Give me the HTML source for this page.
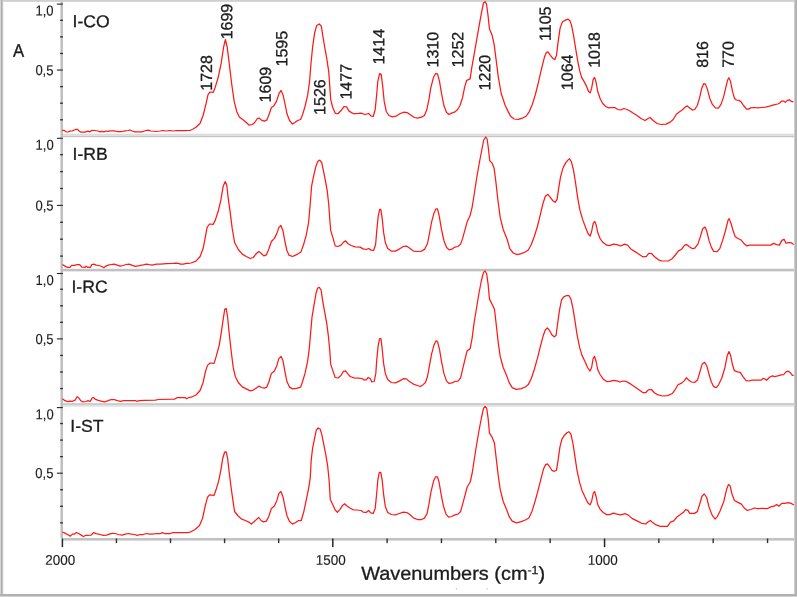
<!DOCTYPE html>
<html><head><meta charset="utf-8"><title>Spectra</title>
<style>
html,body{margin:0;padding:0;background:#fff;}
body{width:797px;height:597px;overflow:hidden;}
svg{display:block;}
text{font-family:"Liberation Sans",sans-serif;fill:#1c1c1c;stroke:#1c1c1c;stroke-width:0.3px;}
</style></head><body>
<svg width="797" height="597" viewBox="0 0 797 597">
<rect x="0" y="0" width="797" height="597" fill="#ffffff"/>
<rect x="0" y="0" width="797" height="1" fill="#cfcfcf"/>
<rect x="0" y="1" width="797" height="0.9" fill="#d2d2d2"/>
<rect x="0" y="0" width="1" height="597" fill="#d4d4d4"/>
<rect x="1" y="0" width="1" height="597" fill="#b0b0b0"/>
<rect x="2" y="0" width="1" height="597" fill="#c4c4c4"/>
<rect x="3" y="1.7" width="1" height="593" fill="#f2f2f2"/>
<rect x="794" y="0" width="1" height="597" fill="#cecece"/>
<rect x="795" y="0" width="1" height="597" fill="#b4b4b4"/>
<rect x="796" y="0" width="1" height="597" fill="#b2b2b2"/>
<rect x="0" y="594" width="797" height="2" fill="#b2b2b2"/>
<rect x="0" y="596" width="797" height="1" fill="#d2d2d2"/>
<rect x="62.5" y="133" width="731.5" height="1" fill="#f4f4f4"/>
<rect x="62.5" y="134" width="731.5" height="1" fill="#dcdcdc"/>
<rect x="62.5" y="135" width="731.5" height="1" fill="#e2e2e2"/>
<rect x="62.5" y="136" width="731.5" height="1" fill="#c4c4c4"/>
<rect x="62.5" y="137" width="731.5" height="1" fill="#f4f4f4"/>
<rect x="62.5" y="268" width="731.5" height="1" fill="#f0f0f0"/>
<rect x="62.5" y="269" width="731.5" height="1" fill="#c2c2c2"/>
<rect x="62.5" y="270" width="731.5" height="1" fill="#c0c0c0"/>
<rect x="62.5" y="271" width="731.5" height="1" fill="#e8e8e8"/>
<rect x="62.5" y="403" width="731.5" height="1" fill="#d0d0d0"/>
<rect x="62.5" y="404" width="731.5" height="1" fill="#cccccc"/>
<rect x="62.5" y="405" width="731.5" height="1" fill="#e2e2e2"/>
<rect x="62.5" y="406" width="731.5" height="1" fill="#e8e8e8"/>
<rect x="62.5" y="538" width="731.5" height="2.6" fill="#c2c2c2"/>
<rect x="60.5" y="1.7" width="2.4" height="536.5" fill="#bcbcbc"/>
<rect x="56.9" y="3.55" width="5.9" height="1.1" fill="#262626"/>
<rect x="60.1" y="19.66" width="2.8" height="1.3" fill="#2a2a2a"/>
<rect x="60.1" y="36.24" width="2.8" height="1.3" fill="#2a2a2a"/>
<rect x="60.1" y="52.82" width="2.8" height="1.3" fill="#2a2a2a"/>
<rect x="56.9" y="69.50" width="5.9" height="1.1" fill="#262626"/>
<rect x="60.1" y="85.98" width="2.8" height="1.3" fill="#2a2a2a"/>
<rect x="60.1" y="102.56" width="2.8" height="1.3" fill="#2a2a2a"/>
<rect x="60.1" y="119.14" width="2.8" height="1.3" fill="#2a2a2a"/>
<rect x="56.9" y="137.75" width="5.9" height="1.1" fill="#262626"/>
<rect x="60.1" y="154.05" width="2.8" height="1.3" fill="#2a2a2a"/>
<rect x="60.1" y="170.95" width="2.8" height="1.3" fill="#2a2a2a"/>
<rect x="60.1" y="187.85" width="2.8" height="1.3" fill="#2a2a2a"/>
<rect x="56.9" y="204.85" width="5.9" height="1.1" fill="#262626"/>
<rect x="60.1" y="221.65" width="2.8" height="1.3" fill="#2a2a2a"/>
<rect x="60.1" y="238.55" width="2.8" height="1.3" fill="#2a2a2a"/>
<rect x="60.1" y="255.45" width="2.8" height="1.3" fill="#2a2a2a"/>
<rect x="56.9" y="272.95" width="5.9" height="1.1" fill="#262626"/>
<rect x="60.1" y="288.60" width="2.8" height="1.3" fill="#2a2a2a"/>
<rect x="60.1" y="305.15" width="2.8" height="1.3" fill="#2a2a2a"/>
<rect x="60.1" y="321.70" width="2.8" height="1.3" fill="#2a2a2a"/>
<rect x="56.9" y="338.35" width="5.9" height="1.1" fill="#262626"/>
<rect x="60.1" y="354.80" width="2.8" height="1.3" fill="#2a2a2a"/>
<rect x="60.1" y="371.35" width="2.8" height="1.3" fill="#2a2a2a"/>
<rect x="60.1" y="387.90" width="2.8" height="1.3" fill="#2a2a2a"/>
<rect x="56.9" y="407.05" width="5.9" height="1.1" fill="#262626"/>
<rect x="60.1" y="422.90" width="2.8" height="1.3" fill="#2a2a2a"/>
<rect x="60.1" y="439.45" width="2.8" height="1.3" fill="#2a2a2a"/>
<rect x="60.1" y="456.00" width="2.8" height="1.3" fill="#2a2a2a"/>
<rect x="56.9" y="472.65" width="5.9" height="1.1" fill="#262626"/>
<rect x="60.1" y="489.10" width="2.8" height="1.3" fill="#2a2a2a"/>
<rect x="60.1" y="505.65" width="2.8" height="1.3" fill="#2a2a2a"/>
<rect x="60.1" y="522.20" width="2.8" height="1.3" fill="#2a2a2a"/>
<rect x="61.65" y="538.5" width="1.5" height="8.6" fill="#262626"/>
<rect x="115.73" y="538.5" width="1.4" height="4.6" fill="#303030"/>
<rect x="169.81" y="538.5" width="1.4" height="4.6" fill="#303030"/>
<rect x="223.89" y="538.5" width="1.4" height="4.6" fill="#303030"/>
<rect x="277.97" y="538.5" width="1.4" height="4.6" fill="#303030"/>
<rect x="332.05" y="538.5" width="1.5" height="8.6" fill="#262626"/>
<rect x="386.40" y="538.5" width="1.4" height="4.6" fill="#303030"/>
<rect x="440.75" y="538.5" width="1.4" height="4.6" fill="#303030"/>
<rect x="495.10" y="538.5" width="1.4" height="4.6" fill="#303030"/>
<rect x="549.45" y="538.5" width="1.4" height="4.6" fill="#303030"/>
<rect x="603.80" y="538.5" width="1.5" height="8.6" fill="#262626"/>
<rect x="658.15" y="538.5" width="1.4" height="4.6" fill="#303030"/>
<rect x="712.50" y="538.5" width="1.4" height="4.6" fill="#303030"/>
<rect x="766.85" y="538.5" width="1.4" height="4.6" fill="#303030"/>
<rect x="455.8" y="588.4" width="1" height="1" fill="#999"/><rect x="486.5" y="588.4" width="1" height="1" fill="#999"/>
<text transform="translate(72.53,27.12) rotate(0.03) scale(1.030,1)" style="font-size:17.10px">I-CO</text>
<text transform="translate(72.53,159.82) rotate(0.03) scale(1.030,1)" style="font-size:17.10px">I-RB</text>
<text transform="translate(71.43,292.51) rotate(0.03) scale(1.030,1)" style="font-size:17.10px">I-RC</text>
<text transform="translate(70.28,431.69) rotate(0.03) scale(1.030,1)" style="font-size:17.10px">I-ST</text>
<text transform="translate(12.94,56.74) rotate(0.03) scale(0.920,1)" style="font-size:18.20px">A</text>
<text transform="translate(35.47,15.61) rotate(0.03) scale(0.910,1)" style="font-size:14.30px;stroke-width:0.15px">1,0</text>
<text transform="translate(35.38,75.12) rotate(0.03) scale(0.910,1)" style="font-size:14.30px;stroke-width:0.15px">0,5</text>
<text transform="translate(35.60,149.80) rotate(0.03) scale(0.910,1)" style="font-size:14.30px;stroke-width:0.15px">1,0</text>
<text transform="translate(35.44,210.51) rotate(0.03) scale(0.910,1)" style="font-size:14.30px;stroke-width:0.15px">0,5</text>
<text transform="translate(35.56,284.96) rotate(0.03) scale(0.910,1)" style="font-size:14.30px;stroke-width:0.15px">1,0</text>
<text transform="translate(35.41,343.88) rotate(0.03) scale(0.910,1)" style="font-size:14.30px;stroke-width:0.15px">0,5</text>
<text transform="translate(35.56,419.13) rotate(0.03) scale(0.910,1)" style="font-size:14.30px;stroke-width:0.15px">1,0</text>
<text transform="translate(35.30,478.06) rotate(0.03) scale(0.910,1)" style="font-size:14.30px;stroke-width:0.15px">0,5</text>
<text transform="translate(45.31,564.69) rotate(0.03) scale(0.963,1)" style="font-size:14.00px;stroke-width:0.15px">2000</text>
<text transform="translate(315.76,564.84) rotate(0.03) scale(0.963,1)" style="font-size:14.00px;stroke-width:0.15px">1500</text>
<text transform="translate(587.80,564.85) rotate(0.03) scale(0.963,1)" style="font-size:14.00px;stroke-width:0.15px">1000</text>
<text transform="translate(361.13,579.64) rotate(0.03) scale(1.060,1)" style="font-size:18.80px">Wavenumbers (cm<tspan dy="-5.8" style="font-size:11.7px">-1</tspan><tspan dy="5.8">)</tspan></text>
<text transform="translate(212.07,90.73) rotate(-89.97) scale(0.990,1)" style="font-size:16.20px">1728</text>
<text transform="translate(232.20,39.37) rotate(-89.97) scale(0.990,1)" style="font-size:16.20px">1699</text>
<text transform="translate(270.87,102.43) rotate(-89.97) scale(0.990,1)" style="font-size:16.20px">1609</text>
<text transform="translate(287.32,66.49) rotate(-89.97) scale(0.990,1)" style="font-size:16.20px">1595</text>
<text transform="translate(325.25,114.90) rotate(-89.97) scale(0.990,1)" style="font-size:16.20px">1526</text>
<text transform="translate(351.61,99.60) rotate(-89.97) scale(0.990,1)" style="font-size:16.20px">1477</text>
<text transform="translate(384.26,64.57) rotate(-89.97) scale(0.990,1)" style="font-size:16.20px">1414</text>
<text transform="translate(438.14,67.52) rotate(-89.97) scale(0.990,1)" style="font-size:16.20px">1310</text>
<text transform="translate(463.22,67.45) rotate(-89.97) scale(0.990,1)" style="font-size:16.20px">1252</text>
<text transform="translate(490.22,90.43) rotate(-89.97) scale(0.990,1)" style="font-size:16.20px">1220</text>
<text transform="translate(550.70,40.95) rotate(-89.97) scale(0.990,1)" style="font-size:16.20px">1105</text>
<text transform="translate(572.66,90.20) rotate(-89.97) scale(0.990,1)" style="font-size:16.20px">1064</text>
<text transform="translate(599.66,67.86) rotate(-89.97) scale(0.990,1)" style="font-size:16.20px">1018</text>
<text transform="translate(708.06,67.79) rotate(-89.97) scale(0.990,1)" style="font-size:16.20px">816</text>
<text transform="translate(733.84,67.79) rotate(-89.97) scale(0.990,1)" style="font-size:16.20px">770</text>
<polyline fill="none" stroke="#ff1818" stroke-width="1.25" stroke-linejoin="round" points="62.0,130.5 64.0,130.3 66.0,131.8 68.0,132.0 70.0,131.2 72.0,131.0 74.0,130.2 76.0,129.3 77.5,129.3 79.0,131.0 81.0,132.2 85.0,132.2 88.0,131.2 90.0,131.8 92.0,130.3 95.0,130.5 98.0,131.0 100.0,131.8 102.0,131.3 104.0,131.8 106.0,131.0 108.0,131.3 110.0,130.8 114.0,130.8 117.0,131.5 122.0,131.5 125.0,130.8 128.0,130.5 130.0,130.0 132.0,131.0 135.0,131.8 142.0,131.8 146.0,130.5 148.0,130.2 151.0,131.0 156.0,131.5 160.0,131.0 163.0,130.5 166.0,131.0 170.0,130.5 173.0,131.0 177.0,130.5 182.0,130.5 187.0,130.5 190.0,130.3 191.0,130.0 193.0,129.0 196.0,127.2 200.0,123.5 203.1,115.5 206.1,103.4 208.1,94.4 210.1,92.0 213.1,92.4 215.2,87.4 218.2,77.3 221.2,63.2 223.6,47.2 225.4,39.5 227.2,47.2 229.2,63.2 231.6,83.3 234.2,101.4 236.7,111.5 239.3,117.1 243.3,120.1 246.3,122.5 249.3,125.2 252.3,124.5 254.7,122.5 257.4,118.5 259.4,118.1 261.4,120.1 264.4,121.1 267.0,119.9 269.4,113.5 271.4,107.5 273.8,105.9 276.5,101.4 279.1,93.4 281.1,90.4 282.9,94.4 284.9,103.4 286.9,113.5 289.5,120.5 292.5,124.1 294.9,122.5 297.6,120.5 300.6,119.5 302.6,114.5 305.0,106.5 307.6,95.4 309.6,81.3 311.0,63.2 312.6,47.2 314.6,33.1 316.7,25.5 319.3,24.0 321.3,26.1 322.7,35.1 324.7,47.2 326.7,58.2 328.7,71.3 329.7,85.4 330.7,99.4 332.7,107.5 335.4,113.5 338.0,113.7 341.0,110.5 344.0,106.5 346.5,106.9 349.1,111.1 353.1,113.5 357.1,113.5 361.1,113.1 365.2,114.5 368.6,113.5 371.2,116.1 373.2,116.5 375.2,109.5 376.6,95.4 377.8,81.3 379.6,73.7 381.2,74.3 382.6,85.4 384.2,101.4 386.3,111.5 388.9,115.5 392.3,116.9 396.3,116.1 400.3,113.5 404.3,112.1 407.8,112.9 411.4,115.5 414.4,117.5 417.4,118.1 421.4,117.1 424.4,115.5 426.9,109.5 428.9,99.4 430.9,87.4 433.5,77.3 435.5,73.7 437.5,73.9 439.5,81.3 441.5,93.4 443.9,105.5 446.6,112.5 449.0,114.5 451.6,113.1 455.0,111.9 457.6,109.5 460.0,105.5 462.6,97.4 464.6,87.4 466.7,80.3 470.1,78.9 472.0,66.3 475.6,46.2 478.7,28.1 481.6,12.1 483.5,3.0 485.1,1.6 486.5,4.0 488.1,16.1 489.5,29.1 492.1,35.2 494.1,44.2 496.2,60.3 498.2,76.4 501.2,93.5 505.2,105.5 508.2,111.6 510.8,116.6 514.2,119.0 518.3,119.4 522.3,118.2 526.3,116.0 529.3,111.6 532.3,104.5 535.4,94.5 538.4,82.4 541.4,69.3 544.4,57.3 546.4,52.3 548.0,51.9 550.4,55.3 552.8,58.3 554.8,59.7 556.5,55.3 558.1,42.2 560.1,28.1 562.5,21.7 565.5,20.1 567.9,19.1 569.9,20.7 571.5,25.1 573.5,35.2 575.6,48.2 577.6,60.3 579.6,70.4 581.6,77.4 584.0,81.4 586.6,86.4 588.6,91.5 590.2,92.9 591.6,88.4 593.2,79.4 594.6,77.4 596.1,82.4 597.7,91.5 600.1,98.5 602.7,103.5 605.7,106.5 608.7,107.9 611.7,107.5 614.7,107.5 617.8,109.5 620.8,110.0 623.8,108.5 627.0,109.5 630.0,111.0 633.0,113.0 637.0,115.5 641.0,118.5 645.0,120.5 648.1,118.5 650.1,117.5 653.1,120.5 657.1,123.5 661.1,124.5 666.1,124.1 670.2,122.1 673.2,119.5 676.2,114.5 679.2,112.1 682.2,110.1 684.6,107.5 687.3,105.9 689.7,107.9 692.3,110.1 694.7,109.5 697.3,105.5 699.7,97.4 701.7,88.4 703.7,83.7 705.3,83.9 707.4,89.4 709.8,98.4 712.4,104.4 715.4,107.9 718.4,108.1 721.0,104.4 723.4,97.4 725.4,89.4 727.5,80.3 728.9,77.7 730.5,81.3 732.5,91.4 734.5,98.4 736.5,100.0 738.9,100.4 741.1,101.8 743.5,105.5 746.5,109.1 748.6,109.1 750.6,107.9 753.6,107.5 757.6,107.9 761.6,107.5 765.6,107.1 769.7,106.1 773.7,104.9 777.7,104.0 779.7,103.0 781.7,101.0 783.7,101.0 785.3,102.4 787.4,100.4 789.4,99.8 791.4,101.4 793.4,101.8"/>
<polyline fill="none" stroke="#ff1818" stroke-width="1.25" stroke-linejoin="round" points="62.4,264.5 65.0,266.1 67.0,267.3 70.0,267.3 71.6,265.3 75.0,265.3 77.0,264.5 79.5,264.5 82.0,267.1 85.0,267.3 86.1,266.1 87.5,267.3 90.5,267.3 91.7,264.5 94.0,264.1 96.0,265.1 99.0,265.5 101.8,266.5 103.8,267.7 105.8,266.1 108.2,265.1 111.2,264.5 114.2,264.1 117.2,265.1 120.2,266.1 123.2,265.5 126.2,264.5 129.2,264.1 132.3,265.3 135.3,266.3 139.3,265.7 143.3,264.9 146.3,264.1 149.3,264.7 152.3,265.1 156.4,264.1 160.4,264.1 166.4,263.7 172.4,263.5 175.4,263.1 178.4,263.3 180.4,264.1 183.4,264.1 186.4,263.3 188.5,263.3 191.0,263.0 196.0,261.2 200.1,256.5 203.1,248.5 205.1,238.4 207.1,227.4 209.5,224.0 213.1,224.4 215.2,220.4 218.2,211.3 220.8,200.3 223.2,186.2 225.2,181.6 226.8,185.2 228.2,198.2 230.2,212.3 232.2,228.4 234.6,242.5 238.3,249.5 242.3,254.1 246.3,256.5 250.3,258.5 253.3,257.5 256.4,253.5 258.8,251.5 261.4,253.5 263.8,255.9 266.4,254.9 269.0,248.5 271.4,241.5 274.4,238.4 276.9,233.4 278.9,227.4 280.9,225.4 282.9,230.4 284.9,241.5 286.9,250.5 288.9,255.1 292.5,256.5 295.6,255.1 298.6,253.5 301.0,251.9 303.6,244.5 306.2,235.4 308.6,222.4 310.2,204.3 311.6,186.2 313.6,176.1 315.7,167.1 317.7,161.5 319.7,160.1 321.7,162.5 323.3,170.1 325.3,180.2 327.3,191.2 328.7,204.3 329.7,218.3 330.7,230.4 333.1,238.4 335.2,245.9 338.0,246.5 341.0,245.1 343.6,242.1 345.7,240.9 347.7,243.5 351.1,245.5 355.1,246.9 360.1,247.1 363.1,248.9 366.2,249.5 368.6,248.5 371.2,250.1 373.6,250.5 375.6,244.5 376.8,230.4 378.2,216.3 379.6,209.7 380.8,209.3 382.2,218.3 383.6,232.4 385.3,242.5 387.7,248.5 391.3,251.1 395.3,251.1 399.3,249.1 403.3,246.5 406.4,246.1 409.4,248.1 413.4,251.1 417.4,251.5 421.4,251.1 424.8,249.1 427.5,243.5 429.5,233.4 431.5,222.4 433.9,213.3 435.9,208.9 437.5,208.9 439.1,215.3 441.5,229.4 443.9,240.5 446.6,247.5 449.2,249.9 452.0,249.1 455.0,247.1 458.0,246.5 460.6,244.1 462.6,238.4 465.1,229.4 467.3,221.4 470.0,215.8 472.0,207.8 474.2,194.5 476.6,178.5 479.2,163.5 481.6,151.0 483.7,140.0 485.7,137.0 487.1,139.0 488.5,149.1 489.7,160.7 492.1,163.1 494.1,168.2 495.8,181.2 497.8,199.3 500.2,217.4 503.2,229.5 507.2,239.5 509.8,248.6 513.2,253.0 517.3,254.6 521.3,253.6 525.3,252.0 528.3,250.0 531.3,244.5 534.3,236.5 537.4,226.5 540.4,214.4 543.0,203.3 545.4,196.3 547.8,194.3 550.4,197.3 552.8,200.7 555.1,202.3 557.1,199.3 558.5,189.3 560.5,177.2 562.9,168.2 565.5,163.1 567.9,160.1 569.5,158.7 571.5,162.1 573.5,170.2 575.6,183.2 577.6,197.3 580.0,210.4 582.6,219.4 585.6,227.5 588.0,233.5 590.2,236.1 591.6,231.5 593.2,223.4 594.8,221.4 596.3,225.5 597.7,232.5 600.1,238.5 603.1,242.5 606.7,245.2 609.7,245.6 613.5,244.1 617.0,244.6 620.6,246.0 624.5,244.1 627.6,245.1 631.1,249.3 635.8,252.1 639.3,254.5 642.8,256.8 646.4,256.3 648.7,253.3 651.5,253.5 654.6,256.8 658.1,259.6 661.6,261.0 668.7,260.8 672.2,258.7 675.7,254.5 678.5,250.9 681.6,249.3 684.6,245.1 686.7,244.6 689.8,247.0 692.1,248.6 694.9,248.1 698.0,243.9 700.3,236.9 702.7,228.7 705.0,227.0 706.7,231.0 709.0,240.4 711.4,247.4 713.7,251.4 717.2,251.6 719.8,248.6 722.6,240.4 725.4,231.0 728.0,220.4 729.2,218.6 730.8,222.8 733.2,231.0 735.1,236.4 737.9,238.5 740.7,239.7 743.7,243.2 746.6,245.8 749.6,245.1 770.7,245.1 773.5,243.4 776.6,244.6 779.4,245.1 781.8,240.4 784.1,239.2 786.0,243.2 788.8,242.7 791.1,242.7 793.7,244.6"/>
<polyline fill="none" stroke="#ff1818" stroke-width="1.25" stroke-linejoin="round" points="62.4,398.7 65.0,400.7 67.6,401.7 70.0,401.1 72.4,401.3 75.1,400.1 77.1,396.7 78.5,397.5 80.7,400.7 83.1,401.9 86.1,401.5 88.1,400.7 90.1,401.5 92.1,398.1 93.5,397.5 95.1,399.1 98.2,400.3 101.2,401.1 104.6,401.9 108.2,400.7 111.2,399.5 114.2,399.5 117.2,400.7 121.2,401.3 123.3,400.5 135.3,400.5 136.7,401.3 139.3,400.7 144.3,400.3 155.4,400.1 158.4,399.5 174.5,399.1 176.9,397.7 185.5,397.7 186.5,398.7 188.5,397.7 191.0,397.2 196.1,395.0 200.1,390.5 203.1,382.5 205.5,371.4 207.5,365.4 210.1,363.0 214.1,363.4 216.2,356.4 219.2,345.3 221.2,333.2 223.2,319.2 224.8,309.1 226.2,308.5 227.6,317.2 229.2,333.2 231.2,351.3 233.2,367.4 235.3,376.5 238.3,382.5 242.3,386.9 246.3,388.9 250.3,390.9 253.3,390.1 256.4,387.9 259.0,386.1 261.4,387.5 264.4,388.1 266.8,387.1 269.0,381.5 271.4,373.4 274.4,371.0 276.9,365.4 278.9,358.4 281.1,356.4 282.9,360.4 284.9,371.4 286.9,381.5 289.5,387.1 292.5,388.9 296.6,388.3 300.6,387.1 302.6,381.5 305.0,373.4 307.6,361.4 309.2,349.3 310.6,333.2 312.0,317.2 314.0,305.1 316.1,293.0 317.7,288.0 319.3,287.4 321.1,290.0 322.7,301.1 324.7,312.1 326.7,323.2 328.3,335.3 329.7,349.3 330.7,364.4 333.1,371.4 335.2,377.5 338.0,378.0 341.0,375.5 343.4,371.4 345.5,370.8 347.5,373.4 350.1,376.5 354.1,377.9 358.1,378.1 362.1,378.5 364.1,379.9 366.2,379.9 368.2,377.5 370.2,378.5 371.8,381.9 374.2,381.5 375.8,373.4 376.8,359.4 378.2,345.3 379.6,338.7 381.0,338.7 382.2,349.3 383.6,363.4 385.3,373.4 387.7,379.5 391.3,382.5 395.3,382.9 399.3,381.1 403.3,378.7 406.4,378.9 409.4,381.5 413.4,384.1 417.4,385.5 420.4,386.5 422.8,384.9 425.5,382.5 427.5,376.5 429.5,365.4 431.5,354.3 433.9,345.3 435.9,340.9 437.5,341.3 439.5,349.3 441.5,361.4 443.9,373.4 446.6,381.1 449.2,383.5 452.0,382.9 455.0,381.5 458.0,381.1 460.6,377.9 462.6,369.4 465.1,358.8 467.1,350.8 470.1,348.9 472.0,338.8 474.0,323.5 476.6,307.5 479.1,292.5 481.4,280.5 483.5,272.4 485.1,271.0 486.7,274.0 488.1,284.1 489.5,299.1 492.1,304.2 494.5,309.2 496.2,324.3 498.2,342.4 500.2,356.4 503.2,367.5 506.6,375.5 509.2,382.6 512.2,387.6 516.3,389.4 521.3,388.6 525.3,387.0 528.3,384.6 531.3,378.5 534.3,369.5 537.4,358.4 540.4,346.4 543.0,336.3 545.4,329.7 547.4,327.9 549.4,330.3 551.8,334.7 554.4,336.9 556.1,335.3 557.5,324.3 559.5,310.2 561.5,300.2 563.5,297.1 566.5,295.5 568.9,295.5 570.9,299.1 572.9,308.2 574.9,320.3 577.0,334.3 579.6,347.4 582.0,355.4 585.0,361.5 587.6,367.5 590.0,371.1 591.6,367.5 593.2,358.4 594.6,356.4 596.1,361.5 597.7,369.5 600.1,374.5 603.1,378.9 606.7,381.6 609.7,381.4 613.5,380.3 617.0,380.8 619.9,382.0 622.9,381.0 626.0,381.3 629.9,383.6 634.6,386.7 639.3,389.9 642.8,392.5 645.9,392.5 648.2,389.9 651.5,389.5 654.6,393.0 658.1,394.9 662.8,396.0 667.5,395.6 672.2,393.5 675.2,389.5 678.0,384.8 681.6,383.1 684.4,380.6 686.5,377.7 688.6,380.1 691.4,382.0 694.5,382.4 697.5,380.1 699.9,371.9 702.2,364.1 704.6,362.3 706.7,365.5 709.0,374.2 711.4,382.0 713.7,386.7 716.1,387.6 718.6,384.8 721.9,377.7 725.0,367.2 727.3,355.4 729.0,351.5 730.6,355.4 732.5,364.8 734.4,370.7 737.4,371.9 740.2,372.3 743.0,376.6 746.1,380.6 748.9,381.0 752.0,380.1 761.3,380.1 763.0,378.4 764.9,378.9 766.7,380.3 769.5,377.3 772.4,375.9 774.7,376.6 777.8,375.9 781.3,374.9 783.6,374.7 786.0,371.9 788.3,371.2 790.7,373.0 792.3,375.4 793.7,375.4"/>
<polyline fill="none" stroke="#ff1818" stroke-width="1.25" stroke-linejoin="round" points="62.4,532.1 65.0,533.1 68.0,534.7 70.4,536.1 72.4,534.1 74.5,534.1 76.5,532.5 79.1,533.7 81.1,535.1 83.5,536.5 86.1,535.3 91.1,535.1 93.5,532.7 96.1,533.7 100.2,534.5 103.2,535.3 106.6,535.1 109.2,534.1 112.2,533.3 115.2,533.5 118.2,534.5 122.2,535.1 125.3,534.1 128.3,533.5 131.3,534.1 134.3,534.5 137.3,535.3 140.3,534.5 143.3,534.5 146.3,533.5 149.4,534.1 152.4,534.1 156.4,533.5 160.4,533.5 162.4,532.7 164.4,533.5 170.4,533.5 172.9,532.5 188.5,532.5 190.0,532.2 195.1,529.5 199.5,525.5 202.5,518.5 205.1,506.4 207.5,497.4 209.5,494.8 214.1,495.4 216.2,489.3 218.8,480.3 220.8,470.3 222.8,458.2 224.6,452.2 226.2,451.8 227.6,458.2 229.2,472.3 231.2,488.3 233.2,502.4 234.6,511.5 237.7,515.5 241.3,518.9 245.3,520.5 248.9,522.1 251.3,524.1 254.3,521.5 256.8,519.1 258.8,517.5 261.0,520.5 263.4,521.9 266.4,521.1 268.8,516.5 271.4,508.4 274.4,506.0 276.9,500.4 278.9,493.4 280.9,491.4 282.9,496.4 284.9,506.4 286.9,515.5 289.5,521.5 292.5,524.1 295.6,522.5 298.6,520.5 301.2,520.5 303.6,512.5 306.2,500.4 308.6,488.3 310.2,478.3 311.2,460.2 312.6,448.1 314.6,438.1 316.3,430.1 318.1,428.0 320.1,429.0 321.7,434.1 323.7,444.1 325.7,454.2 327.7,466.2 329.1,480.3 330.3,499.4 332.7,504.4 335.2,510.0 337.4,512.3 340.0,509.4 342.6,505.4 344.6,503.8 346.7,505.8 349.5,507.8 353.1,509.8 357.1,510.0 361.1,510.5 363.1,512.1 366.2,512.5 368.6,510.5 370.8,512.9 373.2,513.5 375.2,508.4 376.6,494.4 377.8,480.3 379.2,472.7 380.8,472.3 382.2,480.3 383.6,494.4 385.3,506.4 387.7,512.5 391.3,514.5 395.3,514.9 399.3,513.5 403.3,512.1 406.8,512.5 409.8,514.5 413.4,517.9 417.4,519.5 421.4,519.5 424.4,518.1 427.1,513.5 428.9,504.4 430.9,492.4 433.5,481.3 435.5,476.9 437.5,476.9 439.1,482.3 441.1,494.4 443.5,506.4 446.0,514.1 448.6,517.1 451.6,516.5 455.0,514.9 458.0,514.1 460.6,511.5 462.6,504.4 465.1,494.8 467.2,487.0 470.2,482.0 472.3,472.5 474.4,458.5 476.7,444.0 479.1,430.0 481.5,417.5 483.5,408.4 485.1,406.4 486.7,408.4 488.1,418.1 489.5,433.2 492.1,437.2 494.5,443.2 496.2,458.3 498.2,475.4 500.2,489.4 503.2,501.5 506.6,509.5 509.2,516.6 512.2,521.2 516.3,522.8 521.3,521.6 525.3,520.0 528.9,518.0 531.9,511.5 534.7,502.5 537.8,491.4 540.8,479.4 543.4,469.3 545.4,464.9 547.4,463.9 549.4,466.3 551.8,470.3 554.4,471.3 556.5,470.3 557.9,461.3 559.9,447.2 561.9,439.2 564.5,435.2 566.9,432.7 568.9,431.7 570.9,434.2 572.9,443.2 574.9,456.3 577.0,470.3 579.6,482.4 582.0,490.4 585.0,497.1 587.6,502.5 590.0,504.9 591.6,501.5 593.2,493.5 594.6,491.4 596.1,496.5 597.7,504.5 600.1,509.1 603.1,512.5 606.7,514.6 609.7,514.6 613.5,513.2 617.0,514.1 620.6,514.8 625.3,513.7 628.3,515.1 632.3,518.6 637.0,520.9 641.7,523.3 645.7,524.0 648.2,521.7 650.4,520.5 652.7,522.6 656.2,524.9 660.4,526.3 667.5,526.3 670.5,522.1 673.8,520.9 676.9,517.0 680.4,514.6 683.4,512.3 685.6,509.7 687.9,510.4 689.8,513.4 694.5,513.4 697.3,511.6 699.6,504.5 702.0,496.3 704.3,494.0 706.7,497.5 709.0,506.9 712.1,515.1 715.1,519.1 717.5,516.3 720.3,510.4 723.8,501.5 726.6,489.3 728.5,484.6 730.1,485.8 732.0,494.0 734.4,500.5 737.9,502.4 741.4,504.1 744.2,508.0 747.3,510.4 750.8,509.5 754.3,508.0 757.8,508.7 762.5,508.3 767.2,508.7 770.7,506.9 774.2,506.2 776.6,504.5 778.9,506.2 781.8,503.4 784.8,503.4 788.3,502.6 791.1,503.4 793.9,505.0"/>
</svg>
</body></html>
